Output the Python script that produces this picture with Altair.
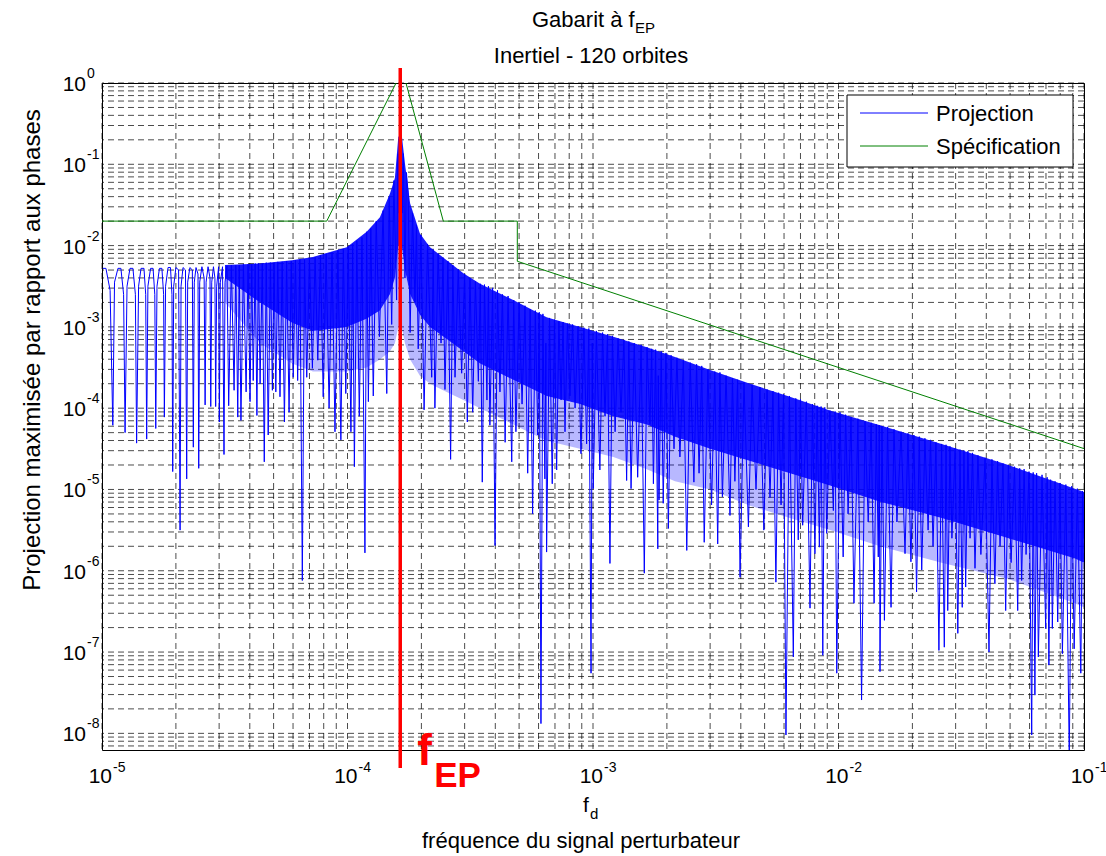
import altair as alt
import pandas as pd

# ---------------- data ----------------
x_decades = [1e-5, 1e-4, 1e-3, 1e-2, 1e-1]
x_exponents = ["-5", "-4", "-3", "-2", "-1"]
y_decades = [1e0, 1e-1, 1e-2, 1e-3, 1e-4, 1e-5, 1e-6, 1e-7, 1e-8]
y_exponents = ["0", "-1", "-2", "-3", "-4", "-5", "-6", "-7", "-8"]
grid_decades_y = [1e-9, 1e-8, 1e-7, 1e-6, 1e-5, 1e-4, 1e-3, 1e-2, 1e-1]
minor_mult = [1, 2, 3, 4, 5, 6, 7, 8, 9]
y_min = 6.24e-9

f_EP = 1.64e-4
series_names = ["Projection", "Spécification"]
series_colors = ["#0000ff", "#008000"]

# Specification template (green)
spec_f = [1e-5, 8.23e-5, 1.675e-4, 2.456e-4, 4.917e-4, 4.917e-4, 1e-1]
spec_v = [0.02, 0.02, 1.44, 0.02, 0.02, 6.41e-3, 3.18e-5]

# Projection (blue): vertices as (log10 f, log10 value)
low_pts = [(-4.997,-2.28),(-4.984,-2.28),(-4.967,-2.55),(-4.956,-4.21),(-4.949,-2.45),(-4.935,-2.28),(-4.923,-2.28),(-4.912,-2.60),(-4.906,-4.30),(-4.898,-2.50),(-4.886,-2.28),(-4.874,-2.28),(-4.864,-2.60),(-4.859,-4.43),(-4.851,-2.50),(-4.841,-2.28),(-4.829,-2.28),(-4.822,-2.60),(-4.818,-4.38),(-4.813,-2.50),(-4.802,-2.28),(-4.792,-2.28),(-4.785,-2.60),(-4.781,-4.25),(-4.776,-2.50),(-4.766,-2.28),(-4.756,-2.28),(-4.749,-2.60),(-4.746,-4.11),(-4.741,-2.50),(-4.731,-2.27),(-4.721,-2.27),(-4.715,-2.60),(-4.712,-4.78),(-4.708,-2.50),(-4.699,-2.27),(-4.688,-2.30),(-4.682,-5.50),(-4.678,-2.50),(-4.670,-2.27),(-4.660,-2.30),(-4.655,-4.87),(-4.651,-2.45),(-4.642,-2.27),(-4.632,-2.30),(-4.628,-4.48),(-4.624,-2.45),(-4.617,-2.27),(-4.609,-2.35),(-4.606,-4.74),(-4.602,-2.45),(-4.593,-2.26),(-4.584,-2.40),(-4.580,-3.96),(-4.576,-2.45),(-4.568,-2.26),(-4.560,-2.40),(-4.557,-3.98),(-4.553,-2.45),(-4.546,-2.26),(-4.540,-2.40),(-4.537,-3.98),(-4.533,-2.50),(-4.525,-2.26),(-4.522,-4.17),(-4.518,-2.45),(-4.509,-2.26),(-4.503,-4.57),(-4.499,-2.45),(-4.491,-2.25),(-4.484,-3.97)]

rise_pts = [(-4.473,-2.24),(-4.462,-3.78),(-4.455,-2.24),(-4.447,-4.11),(-4.441,-2.24),(-4.434,-4.15),(-4.424,-2.23),(-4.413,-3.80),(-4.405,-2.23),(-4.397,-3.92),(-4.390,-2.23),(-4.384,-3.66),(-4.376,-2.22),(-4.369,-4.09),(-4.363,-2.22),(-4.356,-3.70),(-4.347,-2.22),(-4.339,-4.66),(-4.331,-2.21),(-4.323,-4.33),(-4.314,-2.21),(-4.306,-3.78),(-4.299,-2.21),(-4.292,-3.80),(-4.284,-2.20),(-4.275,-3.86),(-4.266,-2.20),(-4.257,-4.17),(-4.248,-2.19),(-4.238,-4.05),(-4.229,-2.19),(-4.221,-3.62),(-4.212,-2.18),(-4.203,-3.66),(-4.194,-2.17),(-4.184,-6.12),(-4.175,-2.17),(-4.166,-3.62),(-4.155,-2.16),(-4.143,-3.51),(-4.132,-2.14),(-4.121,-3.41),(-4.110,-2.12),(-4.099,-3.86),(-4.087,-2.10),(-4.075,-4.00),(-4.063,-2.08),(-4.051,-4.29),(-4.039,-2.06),(-4.027,-4.39),(-4.017,-2.04),(-4.007,-3.82),(-3.997,-2.01),(-3.986,-4.29),(-3.979,-1.98),(-3.972,-4.72),(-3.962,-1.94),(-3.952,-4.10),(-3.941,-1.90),(-3.929,-5.78),(-3.922,-1.83),(-3.915,-3.92),(-3.905,-1.79),(-3.895,-3.85),(-3.883,-1.70),(-3.870,-3.12),(-3.855,-1.57),(-3.840,-3.82),(-3.830,-1.40),(-3.820,-2.97),(-3.811,-1.20),(-3.800,-2.67),(-3.795,-0.87),(-3.792,-1.60),(-3.788,-0.66),(-3.785,-1.40),(-3.782,-0.64),(-3.777,-1.60),(-3.772,-0.87),(-3.766,-2.40),(-3.760,-1.10)]

mid_pts = [(-3.753,-1.35),(-3.745,-3.07),(-3.735,-1.60),(-3.725,-2.70),(-3.719,-1.75),(-3.712,-3.27),(-3.701,-1.87),(-3.688,-4.02),(-3.674,-1.98),(-3.657,-3.62),(-3.651,-2.05),(-3.644,-4.00),(-3.631,-2.10),(-3.619,-3.20),(-3.611,-2.15),(-3.603,-3.77),(-3.591,-2.19),(-3.580,-4.63),(-3.571,-2.24),(-3.562,-3.62),(-3.549,-2.29),(-3.535,-3.57),(-3.523,-2.35),(-3.512,-4.17),(-3.501,-2.40),(-3.490,-4.05),(-3.479,-2.44),(-3.467,-3.67),(-3.459,-2.47),(-3.451,-4.91),(-3.442,-2.48),(-3.432,-3.90),(-3.426,-2.50),(-3.420,-4.21),(-3.409,-2.52),(-3.399,-5.69),(-3.389,-2.55),(-3.379,-3.80),(-3.369,-2.60),(-3.358,-4.42),(-3.346,-2.62),(-3.331,-4.66),(-3.323,-2.67),(-3.314,-4.29),(-3.301,-2.70),(-3.289,-3.95),(-3.277,-2.74),(-3.266,-4.80),(-3.256,-2.78),(-3.246,-5.30),(-3.235,-2.80),(-3.225,-4.33),(-3.219,-2.82),(-3.212,-7.88),(-3.204,-2.84),(-3.196,-4.87),(-3.192,-3.20),(-3.189,-5.77),(-3.177,-2.89),(-3.166,-4.93),(-3.157,-2.91),(-3.148,-4.76),(-3.139,-2.93),(-3.130,-3.90),(-3.122,-2.94),(-3.114,-4.29),(-3.104,-2.96),(-3.094,-3.85),(-3.083,-2.97),(-3.073,-4.00),(-3.061,-2.99),(-3.049,-4.56),(-3.037,-3.01),(-3.026,-4.44),(-3.017,-3.02),(-3.008,-7.26),(-3.003,-3.20),(-2.999,-4.99),(-2.986,-3.05),(-2.972,-4.76),(-2.961,-3.07),(-2.951,-4.10),(-2.941,-3.09),(-2.931,-5.91),(-2.921,-3.11),(-2.910,-4.29),(-2.898,-3.14),(-2.886,-4.05),(-2.874,-3.16),(-2.863,-4.89),(-2.854,-3.18),(-2.845,-4.99),(-2.832,-3.20),(-2.818,-4.85),(-2.804,-3.22),(-2.791,-6.03),(-2.780,-3.25),(-2.768,-4.20),(-2.761,-3.27),(-2.754,-4.93),(-2.745,-3.28),(-2.736,-5.73),(-2.734,-3.60),(-2.731,-5.13),(-2.722,-3.30),(-2.714,-5.17),(-2.703,-3.32),(-2.693,-5.48),(-2.682,-3.35),(-2.670,-4.50),(-2.658,-3.38)]

high_pts = [(-2.646,-4.60),(-2.632,-3.41),(-2.618,-5.75),(-2.604,-3.44),(-2.589,-4.91),(-2.578,-3.46),(-2.568,-4.80),(-2.557,-3.48),(-2.547,-5.65),(-2.532,-3.52),(-2.517,-5.19),(-2.504,-3.55),(-2.492,-5.67),(-2.483,-3.56),(-2.473,-5.09),(-2.458,-3.60),(-2.442,-5.32),(-2.432,-3.63),(-2.422,-4.90),(-2.411,-3.65),(-2.401,-6.08),(-2.385,-3.68),(-2.367,-5.46),(-2.352,-3.71),(-2.336,-5.00),(-2.320,-3.74),(-2.304,-5.50),(-2.291,-3.77),(-2.279,-5.10),(-2.267,-3.79),(-2.255,-6.14),(-2.244,-3.81),(-2.234,-5.19),(-2.224,-3.83),(-2.214,-8.02),(-2.200,-3.85),(-2.184,-7.06),(-2.174,-3.88),(-2.164,-5.62),(-2.155,-3.89),(-2.146,-5.44),(-2.131,-3.92),(-2.116,-6.46),(-2.106,-3.95),(-2.096,-5.79),(-2.087,-3.97),(-2.078,-5.71),(-2.071,-3.98),(-2.064,-7.04),(-2.056,-3.99),(-2.048,-5.54),(-2.035,-4.03),(-2.021,-5.26),(-2.014,-4.04),(-2.007,-7.26),(-1.994,-4.05),(-1.981,-5.83),(-1.971,-4.08),(-1.961,-5.30),(-1.949,-4.11),(-1.937,-6.40),(-1.921,-4.13),(-1.906,-7.59),(-1.892,-4.16),(-1.879,-5.40),(-1.867,-4.18),(-1.855,-6.40),(-1.846,-4.20),(-1.838,-5.83)]

tail_pts = [(-1.834,-4.21),(-1.831,-7.24),(-1.823,-4.22),(-1.813,-6.61),(-1.800,-4.23),(-1.786,-6.45),(-1.774,-4.26),(-1.762,-5.40),(-1.745,-4.29),(-1.729,-5.79),(-1.717,-4.31),(-1.705,-5.89),(-1.693,-4.33),(-1.682,-6.26),(-1.671,-4.35),(-1.661,-5.99),(-1.648,-4.37),(-1.635,-5.50),(-1.625,-4.39),(-1.615,-5.70),(-1.603,-4.42),(-1.591,-6.98),(-1.580,-4.44),(-1.569,-6.94),(-1.562,-4.45),(-1.555,-6.49),(-1.546,-4.47),(-1.538,-5.60),(-1.525,-4.49),(-1.514,-6.77),(-1.505,-4.51),(-1.496,-6.45),(-1.489,-4.52),(-1.482,-6.20),(-1.473,-4.53),(-1.464,-5.60),(-1.454,-4.55),(-1.444,-5.97),(-1.432,-4.58),(-1.420,-5.80),(-1.403,-4.61),(-1.387,-7.00),(-1.375,-4.63),(-1.363,-6.16),(-1.352,-4.65),(-1.342,-5.70),(-1.330,-4.68),(-1.319,-6.49),(-1.308,-4.70),(-1.297,-5.90),(-1.283,-4.72),(-1.270,-6.49),(-1.262,-4.74),(-1.254,-6.12),(-1.244,-4.75),(-1.236,-5.80),(-1.224,-4.78),(-1.213,-8.02),(-1.207,-4.79),(-1.200,-7.53),(-1.193,-4.80),(-1.186,-7.06),(-1.171,-4.82),(-1.156,-6.71),(-1.150,-4.85),(-1.143,-7.16),(-1.136,-4.88),(-1.129,-6.71),(-1.118,-4.90),(-1.107,-6.63),(-1.098,-4.92),(-1.088,-7.02),(-1.074,-4.94),(-1.060,-8.30),(-1.050,-4.96),(-1.040,-6.96),(-1.027,-4.99),(-1.013,-7.26),(-1.006,-5.02),(-1.000,-5.60)]

# dense part of the projection: (log10 f, envelope top, solid floor, sparse floor)
band_pts = [(-4.499,-2.24,-2.40,-2.70),(-4.356,-2.22,-2.70,-3.20),(-4.226,-2.18,-2.95,-3.45),(-4.141,-2.14,-3.05,-3.55),(-4.003,-2.02,-3.00,-3.55),(-3.922,-1.83,-2.90,-3.50),(-3.868,-1.65,-2.80,-3.40),(-3.827,-1.36,-2.60,-3.30),(-3.807,-1.17,-2.40,-3.20),(-3.793,-0.66,-2.00,-3.00),(-3.779,-0.64,-2.00,-3.00),(-3.766,-0.99,-2.30,-3.20),(-3.745,-1.48,-2.60,-3.40),(-3.705,-1.85,-2.85,-3.60),(-3.664,-2.02,-3.00,-3.70),(-3.596,-2.18,-3.15,-3.80),(-3.528,-2.34,-3.30,-3.90),(-3.460,-2.47,-3.45,-4.00),(-3.325,-2.67,-3.65,-4.20),(-3.189,-2.88,-3.85,-4.40),(-3.053,-3.00,-3.95,-4.50),(-2.917,-3.12,-4.10,-4.60),(-2.781,-3.25,-4.20,-4.75),(-2.666,-3.37,-4.35,-4.90),(-2.523,-3.53,-4.50,-5.00),(-2.360,-3.70,-4.65,-5.20),(-2.198,-3.86,-4.80,-5.35),(-2.035,-4.03,-4.95,-5.50),(-1.831,-4.21,-5.15,-5.70),(-1.580,-4.44,-5.35,-5.90),(-1.308,-4.70,-5.60,-6.10),(-1.037,-4.99,-5.85,-6.40),(-1.000,-5.03,-5.90,-6.45)]

# ---------------- tables ----------------
rows = []
k = 0
for seg in (low_pts, rise_pts, mid_pts, high_pts, tail_pts):
    for lf, lv in seg:
        rows.append({"f": 10 ** lf, "v": 10 ** lv, "series": series_names[0], "i": k})
        k += 1
for f, v in zip(spec_f, spec_v):
    rows.append({"f": f, "v": v, "series": series_names[1], "i": k})
    k += 1
lines = pd.DataFrame(rows)

band = pd.DataFrame([{"f": 10 ** a, "top": 10 ** b, "solid": 10 ** c, "sparse": 10 ** d}
                     for a, b, c, d in band_pts])

x_grid = [m * d for d in x_decades[:-1] for m in minor_mult] + [x_decades[-1]]
y_grid = [m * d for d in grid_decades_y for m in minor_mult if y_min <= m * d <= 1.0] + [1.0]
xg_df = pd.DataFrame({"g": x_grid})
yg_df = pd.DataFrame({"g": y_grid})

xt = pd.DataFrame({"f": x_decades, "e": x_exponents})
yt = pd.DataFrame({"v": y_decades, "e": y_exponents})
fep = pd.DataFrame({"f": [f_EP]})
one = pd.DataFrame({"a": [0]})
leg = pd.DataFrame({"name": series_names, "color": series_colors, "row": [0, 1]})

# ---------------- chart ----------------
W, H = 982, 667
FONT = "Liberation Sans"
xs = alt.Scale(type="log", domain=[1e-5, 1e-1], nice=False)
ys = alt.Scale(type="log", domain=[y_min, 1.0], nice=False)
GRID = dict(color="#000000", opacity=0.7, strokeWidth=1, strokeDash=[6, 4])

vgrid = alt.Chart(xg_df).mark_rule(**GRID).encode(x=alt.X("g:Q", scale=xs, axis=None))
hgrid = alt.Chart(yg_df).mark_rule(**GRID).encode(y=alt.Y("g:Q", scale=ys, axis=None))

solid = alt.Chart(band).mark_area(color="#0000ff", opacity=0.9, clip=True).encode(
    x=alt.X("f:Q", scale=xs, axis=None),
    y=alt.Y("solid:Q", scale=ys, axis=None),
    y2="top:Q",
)
sparse = alt.Chart(band).mark_area(color="#0000ff", opacity=0.28, clip=True).encode(
    x=alt.X("f:Q", scale=xs, axis=None),
    y=alt.Y("sparse:Q", scale=ys, axis=None),
    y2="solid:Q",
)
curves = alt.Chart(lines).mark_line(strokeWidth=1, clip=True).encode(
    x=alt.X("f:Q", scale=xs, axis=None),
    y=alt.Y("v:Q", scale=ys, axis=None),
    color=alt.Color("series:N", scale=alt.Scale(domain=series_names, range=series_colors),
                    legend=None),
    order="i:Q",
)
red = alt.Chart(fep).mark_rule(color="#ff0000", strokeWidth=3.5).encode(
    x=alt.X("f:Q", scale=xs, axis=None), y=alt.value(-15), y2=alt.value(685)
)
red_f = alt.Chart(fep).mark_text(text="f", font=FONT, fontSize=44, fontWeight="bold",
                                 color="#ff0000", align="left", baseline="alphabetic",
                                 dx=17).encode(
    x=alt.X("f:Q", scale=xs, axis=None), y=alt.value(682))
red_ep = alt.Chart(fep).mark_text(text="EP", font=FONT, fontSize=35, fontWeight="bold",
                                  color="#ff0000", align="left", baseline="alphabetic",
                                  dx=34).encode(
    x=alt.X("f:Q", scale=xs, axis=None), y=alt.value(704))

# legend box (upper right, inside the axes)
row_scale = alt.Scale(domain=[0, 1], range=[30, 63])
leg_box = alt.Chart(one).mark_rect(fill="white", stroke="black", strokeWidth=1).encode(
    x=alt.value(745), x2=alt.value(971), y=alt.value(12), y2=alt.value(84))
leg_lines = alt.Chart(leg).mark_rule(strokeWidth=1).encode(
    x=alt.value(758), x2=alt.value(826),
    y=alt.Y("row:Q", scale=row_scale, axis=None),
    color=alt.Color("name:N", scale=alt.Scale(domain=series_names, range=series_colors),
                    legend=None),
)
leg_text = alt.Chart(leg).mark_text(font=FONT, fontSize=22, align="left", baseline="middle",
                                    dy=1, color="black").encode(
    x=alt.value(834),
    y=alt.Y("row:Q", scale=row_scale, axis=None),
    text="name:N",
)

x_ten = alt.Chart(xt).mark_text(text="10", font=FONT, fontSize=21, align="right",
                                baseline="alphabetic", dx=10, color="black").encode(
    x=alt.X("f:Q", scale=xs, axis=None), y=alt.value(H + 33))
x_exp = alt.Chart(xt).mark_text(font=FONT, fontSize=14, align="left", baseline="alphabetic",
                                dx=11, color="black").encode(
    x=alt.X("f:Q", scale=xs, axis=None), y=alt.value(H + 22), text="e:N")
y_ten = alt.Chart(yt).mark_text(text="10", font=FONT, fontSize=21, align="right",
                                baseline="alphabetic", dy=8, color="black").encode(
    y=alt.Y("v:Q", scale=ys, axis=None), x=alt.value(-16))
y_exp = alt.Chart(yt).mark_text(font=FONT, fontSize=14, align="left",
                                baseline="alphabetic", dy=-5, color="black").encode(
    y=alt.Y("v:Q", scale=ys, axis=None), x=alt.value(-15), text="e:N")


def label(txt, x, y, size, align="left"):
    return alt.Chart(one).mark_text(text=txt, font=FONT, fontSize=size, align=align,
                                    baseline="alphabetic", color="black").encode(
        x=alt.value(x), y=alt.value(y))


title1 = label("Gabarit à f", 430, -56, 22)
title1s = label("EP", 533, -50, 15)
title2 = label("Inertiel - 120 orbites", 489, -20, 22, align="center")
xlab1 = label("f", 481, 729, 21)
xlab1s = label("d", 488, 736, 15)
xlab2 = label("fréquence du signal perturbateur", 479, 765, 22, align="center")
ylab = alt.Chart(one).mark_text(text="Projection maximisée par rapport aux phases", font=FONT,
                                fontSize=24, align="center", baseline="middle", angle=270,
                                color="black").encode(x=alt.value(-69), y=alt.value(267))

chart = alt.layer(
    vgrid, hgrid, solid, sparse, curves, red, red_f, red_ep,
    leg_box, leg_lines, leg_text,
    x_ten, x_exp, y_ten, y_exp,
    title1, title1s, title2, xlab1, xlab1s, xlab2, ylab,
).resolve_scale(y="independent").properties(
    width=W, height=H,
    autosize=alt.AutoSizeParams(type="none"),
    padding={"left": 102, "top": 83, "right": 22, "bottom": 106},
    background="white",
).configure(font=FONT).configure_view(stroke="black", strokeWidth=1)

chart.save("out.html", embed_options={"renderer": "svg", "actions": False})
